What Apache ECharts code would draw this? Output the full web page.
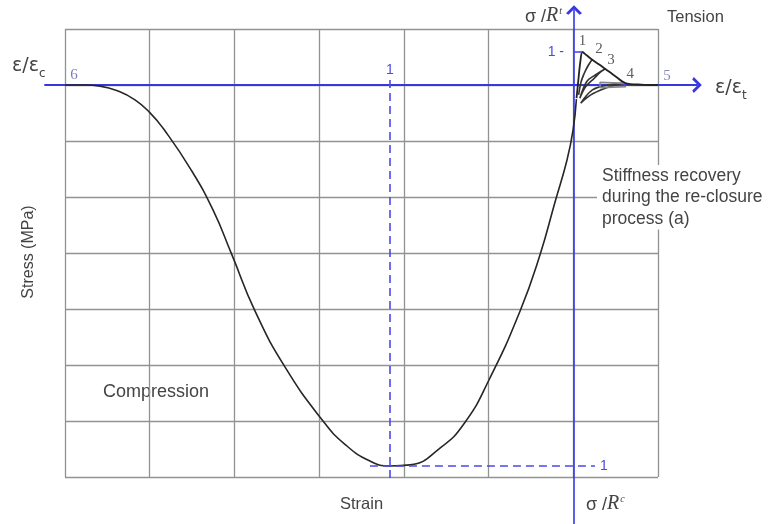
<!DOCTYPE html>
<html>
<head>
<meta charset="utf-8">
<script src="https://cdn.jsdelivr.net/npm/echarts@6/dist/echarts.min.js"></script>
<style>
  html, body { margin: 0; padding: 0; background: #fff; }
  #chart { width: 770px; height: 524px; }
</style>
</head>
<body>
<div id="chart"></div>
<script>
// Compression branch: normalised strain ε/εc and stress σ/Rc (compression positive)
const compStrain = [2.766, 2.658, 2.576, 2.478, 2.386, 2.304, 2.234, 2.087, 1.962, 1.859, 1.734, 1.571, 1.364, 1.245, 1.109, 1.0, 0.891, 0.728, 0.592, 0.457, 0.293, 0.185, 0.103, 0.038, 0.005, -0.013];
const compStress = [0, 0, 0.003, 0.016, 0.039, 0.073, 0.113, 0.218, 0.328, 0.446, 0.593, 0.740, 0.882, 0.943, 0.987, 1.0, 0.997, 0.953, 0.885, 0.769, 0.593, 0.446, 0.307, 0.197, 0.118, 0.037];
const compPeak = [1, 1];

// Tension envelope: ε/εt and σ/Rt
const tenStrain = [0.3, 0.5, 0.75, 1.0, 1.5, 2.14, 3.0, 3.7, 5.0, 6.1, 8.0, 10.0];
const tenStress = [-0.4, 0.1, 0.7, 1.0, 0.9, 0.77, 0.62, 0.49, 0.25, 0.06, 0.01, 0.0];
const tenPeak = [1, 1];

// Numbered states on the tension envelope
const tenMarkStrain = [1.0, 2.14, 3.7, 6.1, 10.0];
const tenMarkStress = [1.0, 0.77, 0.49, 0.06, 0.0];
const tenMarkNames = ['1', '2', '3', '4', '5'];
// Start of the compression branch
const compStartName = '6';

// Unloading / reloading loops in tension
const loopAStrain = [2.14, 1.4, 0.9, 0.55, 0.8, 1.3, 1.7, 2.14];
const loopAStress = [0.77, 0.45, 0.15, -0.3, 0.05, 0.4, 0.6, 0.77];
const loopBStrain = [3.7, 2.5, 1.5, 0.7, 1.4, 2.4, 3.1, 3.7];
const loopBStress = [0.49, 0.3, 0.1, -0.4, -0.05, 0.2, 0.38, 0.49];
const loopCStrain = [6.1, 4.0, 2.2, 0.8, 2.0, 3.5, 5.0, 6.1];
const loopCStress = [0.06, 0.0, -0.15, -0.55, -0.3, -0.12, 0.0, 0.06];
const loopDStrain = [6.2, 3.1, 3.1, 6.2];
const loopDStress = [0.05, 0.08, -0.08, -0.05];

// Background grid: number of columns and rows
const gridCols = 7;
const gridRows = 8;

// Layout (pixels)
const ORIGIN = { x: 574, y: 85 };
const COMP_UNIT = { x: 184, y: 381 };
const TEN_UNIT = { x: 8.4, y: 33 };
const PLOT = { left: 45, top: 10, right: 697, bottom: 524 };
const BOX = { left: 65, top: 29, right: 658, bottom: 477 };

const BLUE = '#3838e0';
const BLUE_LABEL = '#4a4ae8';
const TEXT = '#444';
const GRID = '#929292';

const zip = (a, b) => a.map((v, i) => [v, b[i]]);

const chevron = 'path://M0,10 L10,0 L20,10 L17,12 L10,5 L3,12 Z';

const hidden = { axisLine: { show: false }, axisTick: { show: false }, axisLabel: { show: false }, splitLine: { show: false } };

const chart = echarts.init(document.getElementById('chart'), null, { renderer: 'canvas' });

const loopSeries = (xs, ys, color) => ({
  type: 'line', xAxisIndex: 1, yAxisIndex: 1, data: zip(xs, ys),
  smooth: 0.35, showSymbol: false, silent: true, z: 3,
  lineStyle: { color: color, width: 1.6 }
});

const markOffsets = [[0, -11], [7, -11], [6, -9], [5, -9], [9, -9]];

const ratioLabel = (sup) => ({
  text: '{s|σ /}{r|R}{p|' + sup + '}',
  rich: {
    s: { fontFamily: 'Liberation Sans', fontSize: 18, fill: TEXT, verticalAlign: 'bottom' },
    r: { fontFamily: 'Liberation Serif', fontStyle: 'italic', fontSize: 20, fill: TEXT, verticalAlign: 'bottom' },
    p: { fontFamily: 'Liberation Serif', fontStyle: 'italic', fontSize: 10, fill: TEXT, padding: [0, 0, 10, 1], verticalAlign: 'bottom' }
  }
});

const strainLabel = (sub) => ({
  text: '{m|ε/ε}{s|' + sub + '}',
  rich: {
    m: { fontFamily: 'DejaVu Sans', fontSize: 19, fill: TEXT, verticalAlign: 'top' },
    s: { fontFamily: 'DejaVu Sans', fontSize: 12, fill: TEXT, padding: [11, 0, 0, 0], verticalAlign: 'top' }
  }
});

chart.setOption({
  animation: false,
  backgroundColor: '#fff',
  grid: [
    { left: PLOT.left, top: PLOT.top, width: PLOT.right - PLOT.left, height: PLOT.bottom - PLOT.top, containLabel: false },
    { left: BOX.left, top: BOX.top, width: BOX.right - BOX.left, height: BOX.bottom - BOX.top, containLabel: false }
  ],
  xAxis: [
    Object.assign({ type: 'value', gridIndex: 0, inverse: true,
      min: (ORIGIN.x - PLOT.right) / COMP_UNIT.x, max: (ORIGIN.x - PLOT.left) / COMP_UNIT.x }, hidden),
    Object.assign({}, hidden, { type: 'value', gridIndex: 0, z: 2,
      min: (PLOT.left - ORIGIN.x) / TEN_UNIT.x, max: (PLOT.right - ORIGIN.x) / TEN_UNIT.x,
      axisLine: { show: true, onZero: true, onZeroAxisIndex: 1, symbol: ['none', chevron], symbolSize: [16, 10],
        lineStyle: { color: BLUE, width: 1.8 } } }),
    Object.assign({}, hidden, { type: 'value', gridIndex: 1, min: 0, max: gridCols, interval: 1, z: 0,
      splitLine: { show: true, lineStyle: { color: GRID, width: 1.3 } } })
  ],
  yAxis: [
    Object.assign({ type: 'value', gridIndex: 0, inverse: true,
      min: (PLOT.top - ORIGIN.y) / COMP_UNIT.y, max: (PLOT.bottom - ORIGIN.y) / COMP_UNIT.y }, hidden),
    Object.assign({}, hidden, { type: 'value', gridIndex: 0, z: 2,
      min: (ORIGIN.y - PLOT.bottom) / TEN_UNIT.y, max: (ORIGIN.y - PLOT.top) / TEN_UNIT.y,
      axisLine: { show: true, onZero: true, onZeroAxisIndex: 1, symbol: ['none', chevron], symbolSize: [16, 10],
        lineStyle: { color: BLUE, width: 1.6 } } }),
    Object.assign({}, hidden, { type: 'value', gridIndex: 1, min: 0, max: gridRows, interval: 1, z: 0,
      splitLine: { show: true, lineStyle: { color: GRID, width: 1.3 } } })
  ],
  series: [
    {
      type: 'line', xAxisIndex: 0, yAxisIndex: 0, data: zip(compStrain, compStress),
      smooth: 0.5, showSymbol: false, silent: true, z: 4,
      lineStyle: { color: '#262626', width: 1.6 },
      markLine: {
        silent: true, symbol: 'none', animation: false,
        lineStyle: { color: BLUE_LABEL, type: [8, 5], width: 1.6 },
        label: { show: true, color: BLUE_LABEL, fontFamily: 'Liberation Sans', fontSize: 14, formatter: '1', distance: 3 },
        data: [
          [{ coord: [compPeak[0], -0.013], label: { position: 'start' } }, { coord: [compPeak[0], 1.037] }],
          [{ coord: [1.109, compPeak[1]], label: { position: 'end', distance: 5 } }, { coord: [-0.114, compPeak[1]] }]
        ]
      }
    },
    {
      type: 'scatter', xAxisIndex: 0, yAxisIndex: 0, symbolSize: 0, silent: true, z: 5,
      data: [{ value: [compStrain[0], compStress[0]], name: compStartName }],
      label: { show: true, position: 'inside', offset: [9, -10], formatter: '{b}',
        color: '#5a5aa8', fontFamily: 'Liberation Serif', fontSize: 15 }
    },
    {
      type: 'line', xAxisIndex: 1, yAxisIndex: 1, data: zip(tenStrain, tenStress),
      smooth: 0.3, showSymbol: false, silent: true, z: 4,
      lineStyle: { color: '#222', width: 1.8 },
      markLine: {
        silent: true, symbol: 'none', animation: false,
        lineStyle: { color: BLUE_LABEL, type: 'solid', width: 1.6 },
        label: { show: true, position: 'start', color: BLUE_LABEL, fontFamily: 'Liberation Sans', fontSize: 14, formatter: '1 -', distance: 10 },
        data: [[{ coord: [0, tenPeak[1]] }, { coord: [tenPeak[0], tenPeak[1]] }]]
      }
    },
    loopSeries(loopAStrain, loopAStress, '#333'),
    loopSeries(loopBStrain, loopBStress, '#333'),
    loopSeries(loopCStrain, loopCStress, '#333'),
    loopSeries(loopDStrain, loopDStress, '#888'),
    {
      type: 'scatter', xAxisIndex: 1, yAxisIndex: 1, symbolSize: 0, silent: true, z: 5,
      data: tenMarkStrain.map((x, i) => ({
        value: [x, tenMarkStress[i]], name: tenMarkNames[i],
        label: { offset: markOffsets[i], color: i === 4 ? '#6a6aa8' : '#333' }
      })),
      label: { show: true, position: 'inside', formatter: '{b}', fontFamily: 'Liberation Serif', fontSize: 15 }
    }
  ],
  graphic: [
    { type: 'text', left: 525, top: 6, style: ratioLabel('t') },
    { type: 'text', left: 667, top: 9, style: { text: 'Tension', font: '16.5px "Liberation Sans"', fill: TEXT } },
    { type: 'text', left: 12, top: 57, style: strainLabel('c') },
    { type: 'text', left: 715, top: 79, style: strainLabel('t') },
    { type: 'text', left: 597, top: 165, z: 10, style: {
      text: 'Stiffness recovery\nduring the re-closure\nprocess (a)', font: '17.5px "Liberation Sans"', lineHeight: 21.5,
      fill: TEXT, backgroundColor: '#fff', padding: [0, 10, 0, 5] } },
    { type: 'text', x: 29, y: 252, rotation: Math.PI / 2, style: {
      text: 'Stress (MPa)', font: '16px "Liberation Sans"', fill: TEXT, align: 'center', verticalAlign: 'middle' } },
    { type: 'text', left: 103, top: 383, style: { text: 'Compression', font: '18px "Liberation Sans"', fill: TEXT } },
    { type: 'text', left: 340, top: 496, style: { text: 'Strain', font: '16.5px "Liberation Sans"', fill: TEXT } },
    { type: 'text', left: 586, top: 494, style: ratioLabel('c') }
  ]
});
</script>
</body>
</html>
